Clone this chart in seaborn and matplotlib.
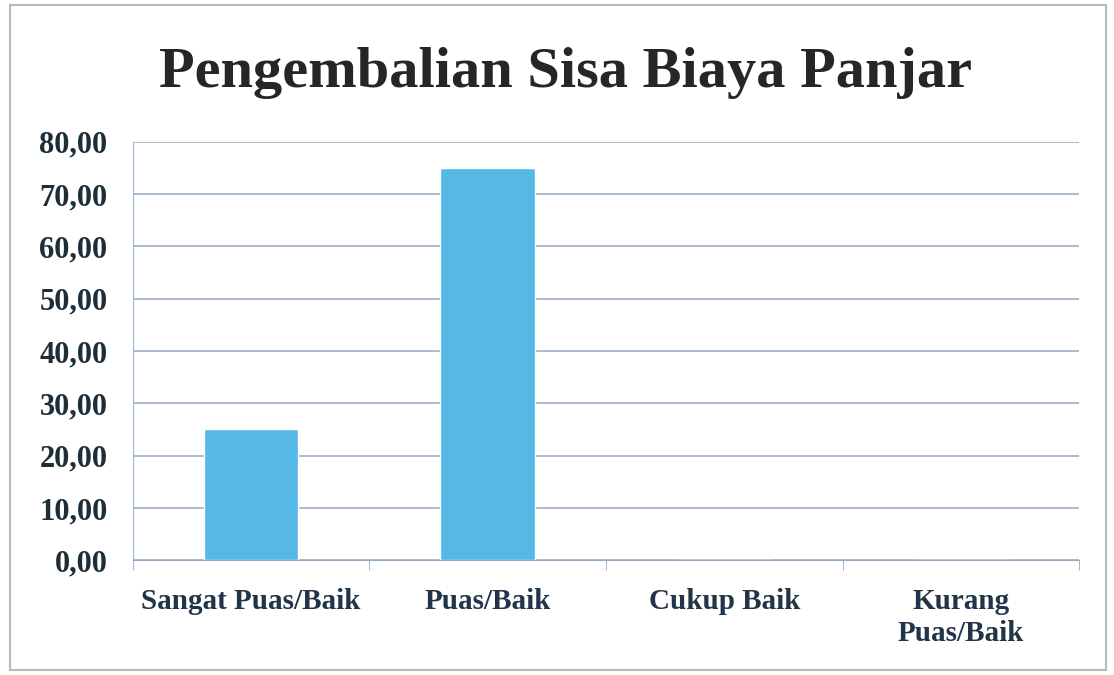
import matplotlib
matplotlib.use('Agg')
import matplotlib.pyplot as plt
import seaborn as sns
import pandas as pd
from matplotlib.ticker import FixedLocator, FuncFormatter
from matplotlib.patches import Rectangle

# data
categories = ['Sangat Puas/Baik', 'Puas/Baik', 'Cukup Baik', 'Kurang\nPuas/Baik']
values = [25.0, 75.0, 0.0, 0.0]
y_ticks = [0, 10, 20, 30, 40, 50, 60, 70, 80]
title = 'Pengembalian Sisa Biaya Panjar'

df = pd.DataFrame({'kategori': categories, 'nilai': values})

sns.set_style('white')
plt.rcParams['font.family'] = ['Liberation Serif', 'DejaVu Serif']

fig = plt.figure(figsize=(11.14, 6.75), dpi=100)
ax = fig.add_axes([0.119, 0.170, 0.850, 0.620])

sns.barplot(data=df, x='kategori', y='nilai', color='#56B8E6', width=0.4,
            saturation=1, ax=ax, zorder=3)

ax.set_ylim(0, 80)
ax.set_xlim(-0.5, 3.5)
ax.set_yticks(y_ticks)
ax.yaxis.set_major_formatter(FuncFormatter(lambda v, p: f'{v:.2f}'.replace('.', ',')))
ax.grid(axis='y', color='#94A8C8', linewidth=1.1, zorder=0)
ax.set_xlabel('')
ax.set_ylabel('')

for s in ['top', 'right']:
    ax.spines[s].set_visible(False)
ax.spines['left'].set_color('#9FB6D6')
ax.spines['bottom'].set_color('#94A8C8')

# category boundary ticks on the x axis
ax.xaxis.set_minor_locator(FixedLocator([-0.5, 0.5, 1.5, 2.5, 3.5]))
ax.tick_params(axis='x', which='major', length=0, pad=20, bottom=False)
ax.tick_params(axis='x', which='minor', length=7, color='#94A8C8', direction='out', bottom=True)
ax.tick_params(axis='y', length=6, color='#94A8C8', direction='out', pad=12)

for lab in ax.get_xticklabels():
    lab.set_fontsize(21)
    lab.set_fontweight('bold')
    lab.set_color('#22344A')
    lab.set_linespacing(1.25)
for lab in ax.get_yticklabels():
    lab.set_fontsize(22)
    lab.set_fontweight('bold')
    lab.set_color('#1E2E38')

fig.text(0.508, 0.892, title, ha='center', va='center', fontsize=42,
         fontweight='bold', color='#262626', family=['Liberation Serif', 'DejaVu Serif'])

# light frame around the chart area
fig.patches.append(Rectangle((0.009, 0.008), 0.984, 0.985, transform=fig.transFigure,
                             fill=False, edgecolor='#B8B8B8', linewidth=1.5))

fig.savefig('out.png', dpi=100)
